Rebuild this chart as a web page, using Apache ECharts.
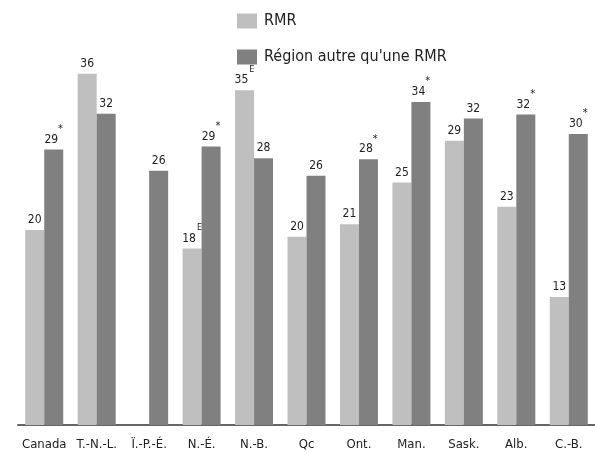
<!DOCTYPE html>
<html>
<head>
<meta charset="utf-8">
<script src="https://cdn.jsdelivr.net/npm/echarts@6/dist/echarts.min.js"></script>
<style>html,body{margin:0;padding:0;background:#fff}#c{width:595px;height:453px}</style>
</head>
<body>
<div id="c"></div>
<script>
var categories = ['Canada', 'T.-N.-L.', 'Ï.-P.-É.', 'N.-É.', 'N.-B.', 'Qc', 'Ont.', 'Man.', 'Sask.', 'Alb.', 'C.-B.'];
var seriesNames = ['RMR', "Région autre qu'une RMR"];
// bar heights
var rmrValues = [20.1, 36.2, null, 18.2, 34.5, 19.4, 20.7, 25.0, 29.3, 22.5, 13.2];
var otherValues = [28.4, 32.1, 26.2, 28.7, 27.5, 25.7, 27.4, 33.3, 31.6, 32.0, 30.0];
// printed labels
var rmrLabels = ['20', '36', '', '18', '35', '20', '21', '25', '29', '23', '13'];
var otherLabels = ['29', '32', '26', '29', '28', '26', '28', '34', '32', '32', '30'];
var rmrMarks = ['', '', '', 'E', 'E', '', '', '', '', '', ''];
var otherMarks = ['*', '', '', '*', '', '', '*', '*', '', '*', '*'];

var FONT = "'DejaVu Sans Condensed', 'Liberation Sans Narrow', sans-serif";

function makeLabel(labels, marks) {
  return {
    show: true,
    position: 'top',
    distance: 4,
    formatter: function (p) {
      var t = labels[p.dataIndex];
      if (!t) return '';
      var m = marks[p.dataIndex];
      if (m === '*') return '{v|' + t + '}{s|*}';
      if (m === 'E') return '{v|' + t + '}{e|E}';
      return '{v|' + t + '}';
    },
    rich: {
      v: { fontFamily: FONT, fontSize: 12, color: '#222', verticalAlign: 'bottom', lineHeight: 13 },
      s: { fontFamily: FONT, fontSize: 11, color: '#222', verticalAlign: 'top', lineHeight: 22 },
      e: { fontFamily: FONT, fontSize: 9, color: '#222', verticalAlign: 'top', lineHeight: 21, padding: [0, 0, 0, 1] }
    }
  };
}

var chart = echarts.init(document.getElementById('c'), null, { renderer: 'canvas' });
chart.setOption({
  animation: false,
  backgroundColor: '#fff',
  legend: {
    orient: 'vertical',
    left: 237,
    top: 12,
    padding: 0,
    icon: 'rect',
    itemWidth: 20,
    itemHeight: 15,
    itemGap: 18,
    textStyle: { fontFamily: FONT, fontSize: 16, lineHeight: 18, color: '#222', padding: [0, 0, 0, 2] },
    data: seriesNames
  },
  grid: { left: 18, right: -3, top: 37, bottom: 28, containLabel: false },
  xAxis: {
    type: 'category',
    data: categories,
    axisTick: { show: false },
    axisLine: { lineStyle: { color: '#666', width: 2 } },
    axisLabel: { interval: 0, fontFamily: FONT, fontSize: 13, color: '#222', margin: 13 }
  },
  yAxis: {
    type: 'value',
    min: 0,
    max: 40,
    show: false,
    splitLine: { show: false }
  },
  series: [
    {
      name: seriesNames[0],
      type: 'bar',
      data: rmrValues,
      barWidth: 19,
      barGap: '0%',
      itemStyle: { color: '#bfbfbf' },
      label: makeLabel(rmrLabels, rmrMarks)
    },
    {
      name: seriesNames[1],
      type: 'bar',
      data: otherValues,
      barWidth: 19,
      barGap: '0%',
      itemStyle: { color: '#808080' },
      label: makeLabel(otherLabels, otherMarks)
    }
  ]
});
</script>
</body>
</html>
